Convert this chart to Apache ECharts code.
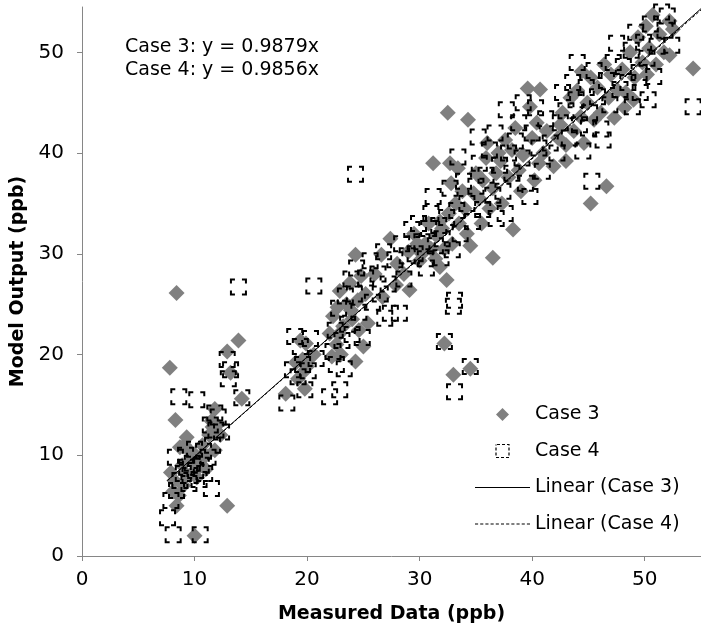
<!DOCTYPE html>
<html>
<head>
<meta charset="utf-8">
<script src="https://cdn.jsdelivr.net/npm/echarts@6.0.0/dist/echarts.min.js"></script>
<style>
  html, body { margin: 0; padding: 0; background: #fff; }
  #chart { width: 701px; height: 629px; }
</style>
</head>
<body>
<div id="chart"></div>
<script>
// Case 3 (filled diamonds): [measured, model]
const case3 = [
  [7.8, 18.7], [8.4, 26.1], [8.3, 13.5], [7.9, 8.3], [8.2, 7.5], [8.1, 6.4], [8.4, 5.0], [8.6, 6.0],
  [8.9, 9.0], [9.1, 11.0], [9.3, 11.8], [9.5, 10.5], [9.7, 9.5], [9.2, 8.2], [9.6, 8.0], [10.0, 2.0],
  [10.0, 10.1], [10.3, 8.7], [10.5, 9.6], [10.7, 11.0], [11.0, 10.0], [11.3, 12.0], [11.5, 13.4],
  [11.8, 14.6], [11.6, 12.8], [12.0, 13.0], [12.3, 12.0], [12.9, 5.0], [10.2, 7.8], [9.0, 7.0],
  [8.7, 10.8], [11.0, 8.6], [11.8, 10.5],
  [12.9, 20.3], [13.9, 21.4], [13.2, 18.2], [14.2, 15.6],
  [18.1, 16.1], [19.4, 21.4], [19.6, 19.5], [19.6, 18.2], [19.9, 21.1], [20.0, 18.8], [19.2, 17.6],
  [20.3, 19.8], [19.8, 16.6], [20.6, 20.0], [19.0, 19.2],
  [22.2, 19.8], [22.0, 22.1], [22.3, 23.8], [22.9, 26.3], [23.8, 27.1], [24.5, 25.4], [23.2, 22.8],
  [25.0, 20.8], [24.3, 19.3], [24.3, 29.9], [25.4, 23.1], [22.7, 24.7], [23.5, 25.0], [24.0, 23.5],
  [22.6, 21.0], [23.0, 20.0], [24.8, 27.8], [25.2, 26.0], [23.9, 24.4], [22.8, 22.0], [24.6, 22.4],
  [26.6, 29.9], [26.7, 25.7], [27.9, 26.9], [29.1, 26.4], [27.4, 31.5], [28.0, 29.0], [29.0, 30.2],
  [29.5, 32.0], [28.6, 28.0], [30.0, 29.3], [29.8, 31.0], [26.0, 28.0],
  [30.5, 31.0], [31.2, 39.0], [32.7, 39.0], [32.5, 44.0], [32.4, 27.4], [31.8, 28.7], [32.2, 21.1],
  [33.0, 18.0], [34.5, 18.6], [30.8, 33.0], [31.0, 30.5], [31.5, 31.8], [31.8, 33.2], [32.0, 32.5],
  [32.2, 30.5], [32.6, 34.0], [32.9, 31.0], [33.2, 35.0], [33.5, 33.0], [33.8, 36.2], [34.0, 34.5],
  [30.2, 30.0], [31.4, 29.5], [32.8, 37.0], [33.4, 38.5], [34.2, 32.0], [34.5, 30.8],
  [34.3, 43.3], [34.8, 36.0], [35.0, 38.0], [35.3, 35.5], [35.6, 37.3], [35.9, 39.5], [36.2, 34.5],
  [36.5, 29.6], [36.5, 36.5], [36.8, 38.0], [37.0, 40.0], [37.3, 35.0], [37.6, 41.3], [37.9, 37.6],
  [38.3, 32.4], [35.5, 33.0], [36.0, 41.0], [37.2, 39.2],
  [38.2, 40.3], [38.5, 42.5], [38.8, 38.3], [39.2, 39.8], [39.6, 46.4], [39.8, 44.6], [40.0, 41.5],
  [40.2, 37.3], [40.4, 43.0], [40.7, 46.3], [41.0, 40.0], [41.3, 42.2], [41.9, 38.7], [39.0, 36.2],
  [40.6, 39.0],
  [42.3, 41.5], [42.7, 44.0], [43.0, 39.2], [43.4, 45.5], [43.7, 42.2], [44.0, 46.2], [44.4, 48.1],
  [44.3, 43.6], [44.6, 41.0], [44.9, 45.0], [45.2, 35.0], [45.2, 47.5], [45.5, 43.3], [45.8, 46.5],
  [46.1, 44.0], [46.4, 48.8], [46.6, 36.7], [46.8, 45.5], [47.0, 47.8], [47.3, 43.5], [47.6, 46.2],
  [43.0, 40.8], [42.5, 42.8],
  [48.0, 48.3], [48.3, 46.0], [48.7, 50.0], [49.1, 47.5], [49.4, 51.5], [49.8, 49.0], [50.1, 52.6],
  [50.4, 50.4], [50.7, 53.7], [51.0, 48.8], [51.3, 51.8], [51.7, 50.0], [52.2, 53.1], [52.2, 49.7],
  [52.5, 52.3], [54.3, 48.4], [49.0, 45.3], [50.2, 47.8], [48.2, 44.5]
];

// Case 4 (dashed hollow squares): [measured, model]
const case4 = [
  [7.6, 3.8], [8.1, 2.1], [10.5, 2.1], [7.9, 5.5], [8.4, 6.5], [8.7, 7.5], [9.0, 8.2], [9.3, 8.8],
  [9.6, 8.0], [9.8, 9.2], [10.1, 8.5], [10.4, 7.6], [10.6, 9.0], [10.9, 8.2], [11.5, 6.7], [11.2, 9.8],
  [11.6, 11.0], [11.9, 12.5], [12.1, 13.8], [11.8, 14.2], [12.4, 12.3], [9.2, 10.0], [10.0, 10.6],
  [8.6, 15.8], [10.2, 15.5], [8.3, 9.8], [9.5, 7.2], [10.8, 10.4], [11.4, 13.0],
  [13.9, 26.7], [12.9, 19.5], [13.2, 18.5], [14.2, 15.7], [13.0, 17.6],
  [18.2, 15.2], [18.9, 21.8], [19.4, 20.8], [19.8, 16.5], [20.6, 26.8], [19.6, 19.0], [20.1, 18.4],
  [20.3, 21.6], [19.2, 17.8], [20.8, 19.6], [18.7, 18.5],
  [22.0, 15.8], [22.9, 16.5], [22.3, 20.3], [22.5, 22.4], [22.8, 24.6], [23.1, 21.4], [23.4, 25.8],
  [23.6, 23.0], [23.9, 27.5], [24.2, 26.0], [24.4, 28.6], [24.6, 24.2], [24.9, 21.7], [25.2, 27.6],
  [25.6, 29.3], [24.3, 37.9], [22.6, 19.0], [23.3, 18.6], [24.0, 22.0], [25.8, 25.2],
  [26.9, 23.6], [27.4, 24.1], [28.2, 24.1], [26.3, 28.0], [26.8, 30.2], [27.2, 27.0], [27.8, 29.4],
  [28.4, 31.0], [28.9, 29.8], [29.3, 32.4], [29.6, 30.0], [29.9, 33.0], [26.5, 26.0], [28.6, 27.5],
  [30.2, 31.2], [30.5, 29.5], [30.8, 32.5], [31.0, 34.0], [31.2, 35.7], [31.4, 30.8], [31.7, 32.8],
  [32.0, 31.5], [32.2, 21.3], [32.4, 33.6], [32.7, 36.5], [33.0, 24.8], [33.1, 25.4], [33.1, 16.3],
  [33.3, 34.3], [33.6, 32.0], [33.9, 37.2], [34.2, 35.0], [34.5, 18.8], [30.6, 28.6], [31.9, 29.6],
  [32.9, 30.4], [33.4, 39.6],
  [34.7, 33.2], [35.0, 36.7], [35.3, 39.0], [35.6, 34.4], [35.9, 37.8], [36.2, 40.3], [36.5, 35.8],
  [36.8, 33.5], [37.1, 38.8], [37.4, 36.2], [37.7, 44.3], [37.9, 40.0], [35.2, 41.6], [36.7, 42.0],
  [37.6, 34.0],
  [38.2, 38.0], [38.5, 41.2], [38.8, 43.0], [39.1, 39.5], [39.4, 37.0], [39.8, 35.7], [40.0, 42.0],
  [40.3, 44.5], [40.6, 40.5], [40.9, 38.2], [41.2, 43.4], [41.6, 41.0], [39.2, 45.0],
  [42.2, 40.0], [42.5, 43.0], [42.7, 46.0], [43.0, 44.2], [43.3, 41.5], [43.6, 47.0], [43.9, 45.3],
  [44.2, 42.8], [44.5, 40.2], [44.8, 46.5], [45.1, 44.0], [45.3, 37.2], [45.5, 48.2], [45.8, 45.6],
  [46.1, 42.4], [46.3, 41.3], [46.6, 47.2], [46.9, 44.8], [47.2, 49.0], [47.5, 50.9], [44.0, 49.0],
  [45.0, 42.5],
  [47.8, 46.3], [48.1, 48.6], [48.5, 47.0], [48.8, 50.2], [48.9, 44.6], [49.2, 52.0], [49.5, 48.0],
  [49.9, 51.0], [50.2, 49.4], [50.5, 52.8], [50.8, 47.6], [51.1, 50.6], [51.5, 54.0], [51.8, 52.2],
  [52.0, 53.6], [52.4, 50.7], [54.3, 44.6], [49.6, 46.0], [50.3, 45.3]
];

// trend lines through the origin
const slope3 = 0.9879;
const slope4 = 0.9856;
const trendX = [7.6, 55];

const tickValues = [0, 10, 20, 30, 40, 50];

const font = 'DejaVu Sans';

// legend icons (keep aspect, so the shapes are not stretched to the item width)
const iconW = 55;
const diamondIcon = 'path://M1,0L2,1L1,2L0,1Z';
const squareIcon = 'path://M0,0H1V1H0Z';
const solidLineIcon = 'path://M0,0H' + iconW + 'V1H0Z';
let dashedLineIcon = 'path://';
for (let x = 0; x < iconW; x += 5) {
  dashedLineIcon += 'M' + x + ',0h3v1h-3z';
}

const chart = echarts.init(document.getElementById('chart'));

const axisCommon = {
  type: 'value',
  min: 0,
  interval: 10,
  nameLocation: 'middle',
  nameTextStyle: { fontFamily: font, fontWeight: 'bold', fontSize: 19, color: '#000' },
  splitLine: { show: false },
  axisLine: { show: true, lineStyle: { color: '#868686', width: 1 } },
  axisTick: { show: true, inside: false, length: 5, lineStyle: { color: '#868686' }, customValues: tickValues },
  axisLabel: { fontFamily: font, fontSize: 20, color: '#000', customValues: tickValues }
};

chart.setOption({
  animation: false,
  grid: { left: 82, right: 0, top: 7, bottom: 73, containLabel: false, outerBoundsMode: 'none' },
  xAxis: Object.assign({}, axisCommon, {
    max: 55,
    name: 'Measured Data (ppb)',
    nameGap: 49,
    axisLabel: Object.assign({}, axisCommon.axisLabel, { margin: 14 })
  }),
  yAxis: Object.assign({}, axisCommon, {
    max: 54.5,
    name: 'Model Output (ppb)',
    nameGap: 50,
    axisLabel: Object.assign({}, axisCommon.axisLabel, { margin: 18 })
  }),
  legend: {
    orient: 'vertical',
    left: 470,
    top: 400,
    itemWidth: iconW,
    itemHeight: 13,
    itemGap: 17.5,
    symbolKeepAspect: true,
    textStyle: { fontFamily: font, fontSize: 19, color: '#000' },
    data: [
      { name: 'Case 3', icon: diamondIcon, itemStyle: { color: '#808080', borderWidth: 0 } },
      { name: 'Case 4', icon: squareIcon, itemStyle: { color: 'rgba(0,0,0,0)', borderColor: '#000', borderWidth: 1.2, borderType: [3, 2] } },
      { name: 'Linear (Case 3)', icon: solidLineIcon, itemStyle: { color: '#000', borderWidth: 0 } },
      { name: 'Linear (Case 4)', icon: dashedLineIcon, itemStyle: { color: '#000', borderWidth: 0 } }
    ]
  },
  graphic: [
    { type: 'text', left: 125, top: 38, style: { text: 'Case 3: y = 0.9879x', font: '19px "DejaVu Sans"', fill: '#000' } },
    { type: 'text', left: 125, top: 61, style: { text: 'Case 4: y = 0.9856x', font: '19px "DejaVu Sans"', fill: '#000' } }
  ],
  series: [
    {
      name: 'Case 3',
      type: 'scatter',
      symbol: 'diamond',
      symbolSize: 16,
      itemStyle: { color: '#808080', opacity: 1 },
      data: case3
    },
    {
      name: 'Case 4',
      type: 'scatter',
      symbol: 'rect',
      symbolSize: 15,
      itemStyle: {
        color: 'rgba(0,0,0,0)',
        borderColor: '#000',
        borderWidth: 2,
        borderType: [8, 7],
        borderDashOffset: 4,
        opacity: 1
      },
      data: case4
    },
    {
      name: 'Linear (Case 3)',
      type: 'line',
      symbol: 'none',
      itemStyle: { color: '#000' },
      lineStyle: { color: '#000', width: 1 },
      data: trendX.map(x => [x, x * slope3])
    },
    {
      name: 'Linear (Case 4)',
      type: 'line',
      symbol: 'none',
      itemStyle: { color: '#000' },
      lineStyle: { color: '#000', width: 1, type: [3, 2] },
      data: trendX.map(x => [x, x * slope4])
    }
  ]
});
</script>
</body>
</html>
